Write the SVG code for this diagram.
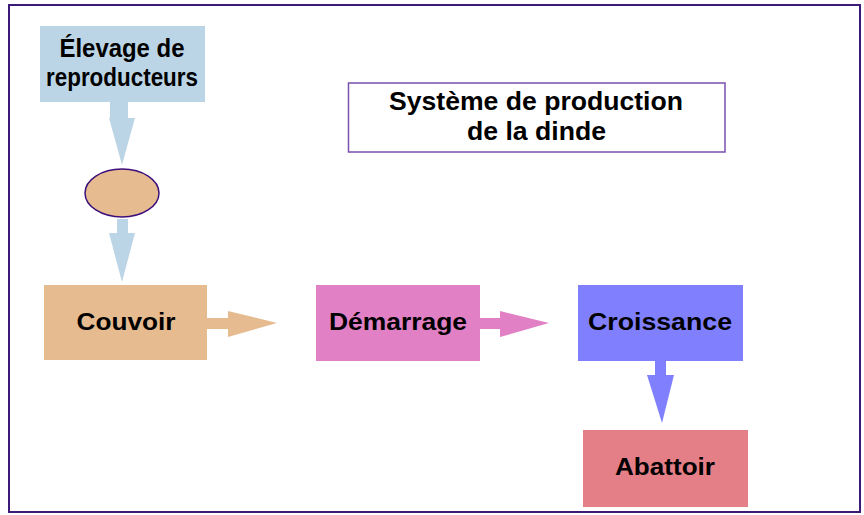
<svg xmlns="http://www.w3.org/2000/svg" width="864" height="515" viewBox="0 0 864 515">
<style>
text{font-family:"Liberation Sans",Arial,sans-serif;font-weight:bold;fill:#000;text-anchor:middle}
.t{font-size:24px}
.l{font-size:25px}
</style>
<rect x="0" y="0" width="864" height="515" fill="#fff"/>
<rect x="9" y="5" width="851" height="507" fill="none" stroke="#3c1a78" stroke-width="2"/>
<g id="connectors">
<polygon fill="#bcd5e6" points="110,102 128,102 128,118 135,118 122,165 109,118 110,118"/>
<polygon fill="#bcd5e6" points="117,219 128,219 128,233 135,233 122,282 109,233 117,233"/>
<polygon fill="#e6bb8f" points="207,318 228,318 228,311 277,323 228,337 228,329 207,329"/>
<polygon fill="#e280c6" points="480,318 500,318 500,311 549,323 500,337 500,329 480,329"/>
<polygon fill="#8080ff" points="655,361 666,361 666,375 674,375 662,423 647,375 655,375"/>
</g>
<g id="title">
<rect x="348.5" y="83" width="376.5" height="69" fill="#fff" stroke="#7a50b0" stroke-width="1.5"/>
<text class="l" x="536" y="110" textLength="294" lengthAdjust="spacingAndGlyphs">Système de production</text>
<text class="l" x="536.5" y="140" textLength="139" lengthAdjust="spacingAndGlyphs">de la dinde</text>
</g>
<g id="elevage">
<rect x="40" y="26" width="165" height="76" fill="#bcd5e6"/>
<text class="l" x="122" y="57" textLength="125" lengthAdjust="spacingAndGlyphs">Élevage de</text>
<text class="l" x="122" y="86" textLength="152" lengthAdjust="spacingAndGlyphs">reproducteurs</text>
</g>
<g id="oeuf">
<ellipse cx="122" cy="193" rx="37" ry="24" fill="#e6bb8f" stroke="#3d0f7a" stroke-width="1.5"/>
</g>
<g id="couvoir">
<rect x="44" y="285" width="163" height="75" fill="#e6bb8f"/>
<text class="t" x="126" y="330" textLength="99" lengthAdjust="spacingAndGlyphs">Couvoir</text>
</g>
<g id="demarrage">
<rect x="316" y="285" width="164" height="76" fill="#e280c6"/>
<text class="t" x="398" y="330" textLength="138" lengthAdjust="spacingAndGlyphs">Démarrage</text>
</g>
<g id="croissance">
<rect x="578" y="285" width="165" height="76" fill="#8080ff"/>
<text class="t" x="660" y="330" textLength="144" lengthAdjust="spacingAndGlyphs">Croissance</text>
</g>
<g id="abattoir">
<rect x="583" y="430" width="165" height="77" fill="#e47e87"/>
<text class="t" x="665" y="475" textLength="100" lengthAdjust="spacingAndGlyphs">Abattoir</text>
</g>
</svg>
